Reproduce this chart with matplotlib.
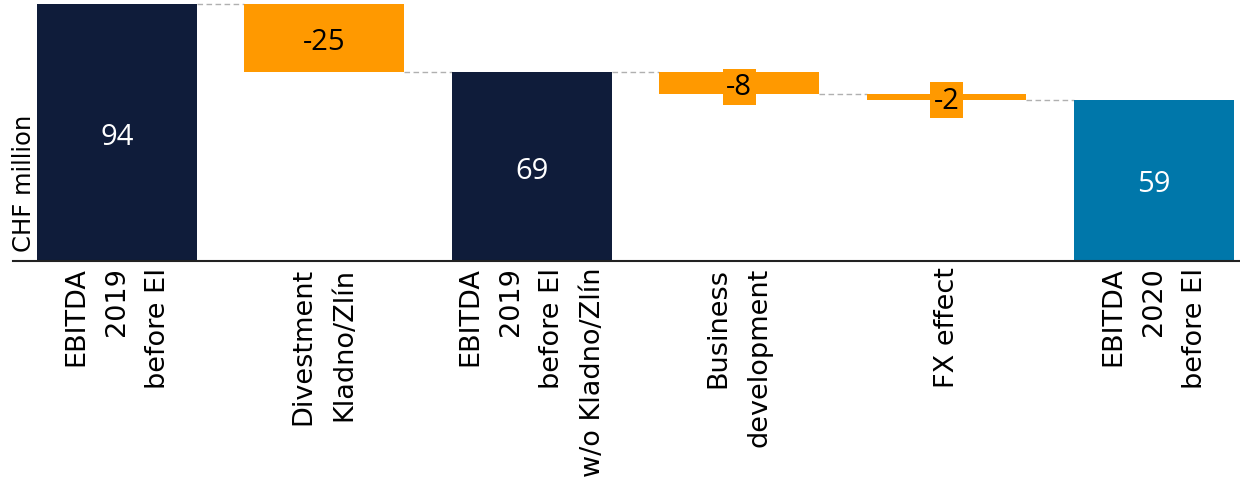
import matplotlib
matplotlib.use("Agg")
import matplotlib.pyplot as plt

# Bridge from EBITDA 2019 to EBITDA 2020 (CHF million)
categories = [
    "EBITDA\n2019\nbefore EI",
    "Divestment\nKladno/Zlín",
    "EBITDA\n2019\nbefore EI\nw/o Kladno/Zlín",
    "Business\ndevelopment",
    "FX effect",
    "EBITDA\n2020\nbefore EI",
]
values = [94, -25, 69, -8, -2, 59]
is_total = [True, False, True, False, False, True]
total_colors = ["#0f1c3a", None, "#0f1c3a", None, None, "#0077aa"]
delta_color = "#ff9900"

fig = plt.figure(figsize=(12.4, 4.85), dpi=100)
ax = fig.add_axes([13 / 1240, 1 - 262 / 485, 1 - 13 / 1240, 262 / 485])

bar_w = 0.77
level = 0
tops = []
for i, (v, tot) in enumerate(zip(values, is_total)):
    if tot:
        bottom, height = 0, v
        level = v
        color = total_colors[i]
        ax.bar(i, height, bottom=bottom, width=bar_w, color=color, zorder=2)
        ax.text(i, v / 2, f"{v}", ha="center", va="center_baseline", color="white",
                fontsize=21, family="Open Sans", zorder=4)
    else:
        new_level = level + v
        bottom, height = min(level, new_level), abs(v)
        ax.bar(i, height, bottom=bottom, width=bar_w, color=delta_color, zorder=2)
        ax.text(i, bottom + height / 2, f"{v}", ha="center", va="center_baseline",
                color="black", fontsize=21, family="Open Sans", zorder=4,
                bbox=dict(boxstyle="square,pad=0.12", fc=delta_color, ec="none"))
        level = new_level
    tops.append(level)

# dashed connectors between consecutive bars
for i in range(len(values) - 1):
    y = tops[i] if not is_total[i] else values[i]
    ax.plot([i + bar_w / 2, i + 1 - bar_w / 2], [y, y], color="#b0b0b0",
            linestyle=(0, (4, 2.5)), linewidth=1, zorder=1)

ax.set_xlim(-0.501, 5.415)
ax.set_ylim(0, 262 / 2.734)

for side in ["top", "right", "left"]:
    ax.spines[side].set_visible(False)
ax.spines["bottom"].set_linewidth(1.5)
ax.spines["bottom"].set_color("#222222")
ax.set_yticks([])
ax.set_xticks(range(len(categories)))
ax.set_xticklabels(categories, rotation=90, fontsize=19.5, family="DejaVu Sans",
                   multialignment="right", linespacing=1.75)
ax.tick_params(axis="x", length=0, pad=4)

fig.text(0.019, 1 - 252 / 485, "CHF million", rotation=90, ha="center",
         va="bottom", fontsize=17.5, family="DejaVu Sans")

fig.savefig("out.png", dpi=100)
